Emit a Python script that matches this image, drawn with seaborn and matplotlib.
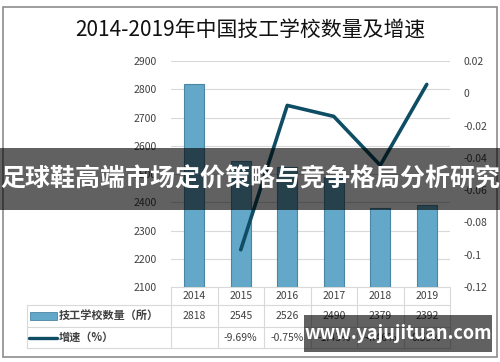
import numpy as np
import pandas as pd
import matplotlib
matplotlib.use("Agg")
import matplotlib.pyplot as plt
import matplotlib.transforms as mtransforms
from matplotlib.patches import Rectangle
from matplotlib.lines import Line2D
import seaborn as sns

# data
years = ["2014", "2015", "2016", "2017", "2018", "2019"]
schools = [2818, 2545, 2526, 2490, 2379, 2392]
growth = [np.nan, -0.0969, -0.0075, -0.0143, -0.0446, 0.0055]
growth_labels = ["", "-9.69%", "-0.75%", "-1.43%", "-4.46%", "0.55%"]
left_ticks = [2100, 2200, 2300, 2400, 2500, 2600, 2700, 2800, 2900]
right_ticks = [-0.12, -0.1, -0.08, -0.06, -0.04, -0.02, 0, 0.02]
right_labels = ["-0.12", "-0.1", "-0.08", "-0.06", "-0.04", "-0.02", "0", "0.02"]

df = pd.DataFrame({"year": years, "schools": schools, "growth": growth})

sns.set_style("white")
plt.rcParams["font.family"] = ["Noto Sans CJK SC", "DejaVu Sans"]

fig = plt.figure(figsize=(5, 3.62), dpi=100)
ax = fig.add_axes([0.342, 0.207, 0.558, 0.6245])

bar_c = "#64a8c9"
line_c = "#0e4d63"
grid_c = "#d9d9d9"
txt_c = "#404040"

sns.barplot(data=df, x="year", y="schools", ax=ax, color=bar_c, width=0.43,
            edgecolor="#4a86a3", linewidth=0.8, saturation=1, zorder=3)
ax.set_ylim(2100, 2900)
ax.set_xlim(-0.5, 5.5)
ax.set_yticks(left_ticks)
ax.set_yticklabels([str(t) for t in left_ticks], fontsize=7.5, color=txt_c)
ax.yaxis.grid(True, color=grid_c, linewidth=0.8, zorder=0)
ax.set_xticks([])
ax.set_xlabel("")
ax.set_ylabel("")
ax.tick_params(axis="y", length=0, pad=10)
for s in ax.spines.values():
    s.set_visible(False)

ax2 = ax.twinx()
sns.lineplot(x=np.arange(len(years)), y=df["growth"], ax=ax2, color=line_c,
             linewidth=2.6, zorder=4)
ax2.set_ylim(-0.12, 0.02)
ax2.set_xlim(-0.5, 5.5)
ax2.set_yticks(right_ticks)
ax2.set_yticklabels(right_labels, fontsize=7.5, color=txt_c)
ax2.tick_params(axis="y", length=0, pad=10)
ax2.set_ylabel("")
for s in ax2.spines.values():
    s.set_visible(False)

# data table below the plot
tr = mtransforms.blended_transform_factory(ax.transData, ax.transAxes)
x_left = -3.6
rows_y = [0.0, -0.08, -0.177, -0.27]
for y in rows_y[1:]:
    ax.add_line(Line2D([x_left, 5.5], [y, y], transform=tr, color=grid_c,
                       linewidth=0.8, clip_on=False))
ax.add_line(Line2D([-0.5, 5.5], [0, 0], transform=tr, color=grid_c,
                   linewidth=0.8, clip_on=False))
for k in range(7):
    xb = -0.5 + k
    ax.add_line(Line2D([xb, xb], [0, rows_y[-1]], transform=tr, color=grid_c,
                       linewidth=0.8, clip_on=False))
ax.add_line(Line2D([x_left, x_left], [rows_y[1], rows_y[-1]], transform=tr,
                   color=grid_c, linewidth=0.8, clip_on=False))

for i, yr in enumerate(years):
    ax.text(i, -0.04, yr, transform=tr, ha="center", va="center",
            fontsize=7.5, color=txt_c)
    ax.text(i, -0.128, str(schools[i]), transform=tr, ha="center",
            va="center", fontsize=7.5, color=txt_c)
    ax.text(i, -0.224, growth_labels[i], transform=tr, ha="center",
            va="center", fontsize=7.5, color=txt_c)

ax.add_patch(Rectangle((x_left + 0.07, -0.145), 0.58, 0.035, transform=tr,
                       facecolor=bar_c, edgecolor="#4a86a3", linewidth=0.6,
                       clip_on=False))
ax.add_line(Line2D([x_left + 0.05, x_left + 0.65], [-0.226, -0.226],
                   transform=tr, color=line_c, linewidth=2.4, clip_on=False))
ax.text(x_left + 0.68, -0.128, "技工学校数量（所）", transform=tr, ha="left",
        va="center", fontsize=8, color=txt_c, fontweight="bold")
ax.text(x_left + 0.68, -0.224, "增速（%）", transform=tr, ha="left",
        va="center", fontsize=8, color=txt_c, fontweight="bold")

fig.text(0.5, 0.915, "2014-2019年中国技工学校数量及增速", ha="center",
         va="center", fontsize=15, color="#111111")

# outer frame
fig.add_artist(Rectangle((0.006, 0.014), 0.988, 0.967, transform=fig.transFigure,
                         fill=False, edgecolor="#8c8c8c", linewidth=1.2))

# overlay banners
fig.add_artist(Rectangle((0, 0.42), 1, 0.171, transform=fig.transFigure,
                         facecolor="black", alpha=0.62, edgecolor="none", zorder=10))
fig.text(0.5, 0.505, "足球鞋高端市场定价策略与竞争格局分析研究", ha="center",
         va="center", fontsize=18, color="white", fontweight="bold", zorder=11)
fig.add_artist(Rectangle((0.608, 0.028), 0.376, 0.102, transform=fig.transFigure,
                         facecolor="black", alpha=0.62, edgecolor="none", zorder=10))
fig.text(0.796, 0.078, "www.yajujituan.com", ha="center", va="center",
         fontsize=13, color="white", fontweight="bold", zorder=11)

fig.savefig("out.png", dpi=100)
